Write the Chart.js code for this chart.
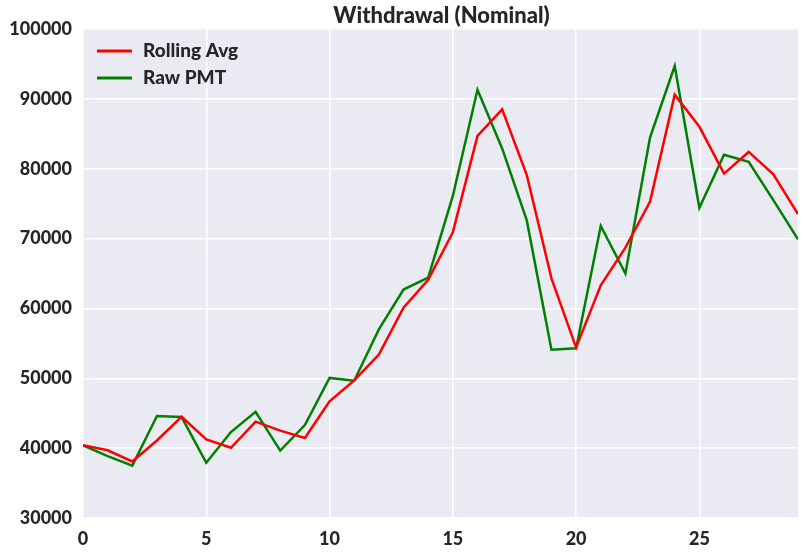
<!DOCTYPE html>
<html>
<head>
<meta charset="utf-8">
<script src="https://cdn.jsdelivr.net/npm/chart.js@4.4.1/dist/chart.umd.min.js"></script>
<style>
  html, body { margin: 0; padding: 0; background: #ffffff; }
  #wrap { width: 805px; height: 556px; }
</style>
</head>
<body>
<div id="wrap"><canvas id="grafica"></canvas></div>
<script>
const periods = [0, 1, 2, 3, 4, 5, 6, 7, 8, 9, 10, 11, 12, 13, 14, 15, 16, 17, 18, 19, 20, 21, 22, 23, 24, 25, 26, 27, 28, 29];
const rollingAvg = [40400, 39700, 38100, 41100, 44500, 41250, 40050, 43800, 42500, 41450, 46700, 49700, 53400, 60100, 64100, 70900, 84700, 88500, 79100, 64300, 54400, 63300, 68700, 75300, 90600, 86000, 79300, 82400, 79200, 73500];
const rawPmt = [40400, 38850, 37500, 44600, 44450, 37900, 42300, 45200, 39650, 43300, 50050, 49650, 57000, 62700, 64400, 76100, 91300, 82900, 72600, 54100, 54300, 71800, 65000, 84500, 94700, 74400, 82000, 81000, 75500, 69900];
const yTicks = [30000, 40000, 50000, 60000, 70000, 80000, 90000, 100000];
const xTicks = [0, 5, 10, 15, 20, 25];

const fontFam = "Lato, 'DejaVu Sans', sans-serif";
const textColor = "#262626";

const fondoPlot = {
    id: "fondoPlot",
    beforeDraw(chart) {
        const a = chart.chartArea;
        const ctx = chart.ctx;
        ctx.save();
        ctx.fillStyle = "#EAEAF2";
        ctx.fillRect(a.left, a.top, a.right - a.left, a.bottom - a.top);
        ctx.restore();
    }
};

const tituloYLeyenda = {
    id: "tituloYLeyenda",
    afterDraw(chart) {
        const a = chart.chartArea;
        const ctx = chart.ctx;
        ctx.save();
        ctx.fillStyle = textColor;
        ctx.font = "900 22px " + fontFam;
        ctx.textAlign = "center";
        ctx.textBaseline = "middle";
        ctx.fillText("Withdrawal (Nominal)", (a.left + a.right) / 2 + 1, 16);

        // leyenda dentro del area
        const items = chart.data.datasets;
        ctx.font = "900 19px " + fontFam;
        ctx.textAlign = "left";
        items.forEach((ds, i) => {
            const y = 51 + i * 27;
            ctx.strokeStyle = ds.borderColor;
            ctx.lineWidth = 3;
            ctx.beginPath();
            ctx.moveTo(97, y);
            ctx.lineTo(132, y);
            ctx.stroke();
            ctx.fillStyle = textColor;
            ctx.fillText(ds.label, 143, y);
        });
        ctx.restore();
    }
};

function iniciarGrafica() {
    const ctx = document.getElementById("grafica").getContext("2d");

    new Chart(ctx, {
        type: "line",
        data: {
            datasets: [{
                label: "Rolling Avg",
                data: periods.map((p, i) => ({ x: p, y: rollingAvg[i] })),
                borderColor: "#FF0000",
                borderWidth: 2.5,
                pointRadius: 0,
                tension: 0
            }, {
                label: "Raw PMT",
                data: periods.map((p, i) => ({ x: p, y: rawPmt[i] })),
                borderColor: "#008000",
                borderWidth: 2.5,
                pointRadius: 0,
                tension: 0
            }]
        },
        options: {
            responsive: true,
            maintainAspectRatio: false,
            animation: false,
            layout: { padding: { top: 29, right: 7, left: 0, bottom: 0 } },
            plugins: {
                legend: { display: false },
                title: { display: false },
                tooltip: { enabled: false }
            },
            scales: {
                x: {
                    type: "linear",
                    min: 0,
                    max: 29,
                    afterBuildTicks: s => { s.ticks = xTicks.map(v => ({ value: v })); },
                    afterFit: s => { s.height = 38; },
                    border: { display: false },
                    grid: { color: "#FFFFFF", lineWidth: 1.5, drawTicks: false },
                    ticks: {
                        padding: 10,
                        color: textColor,
                        font: { family: fontFam, size: 18, weight: "900" },
                        maxRotation: 0
                    }
                },
                y: {
                    min: 30000,
                    max: 100000,
                    afterBuildTicks: s => { s.ticks = yTicks.map(v => ({ value: v })); },
                    afterFit: s => { s.width = 83; },
                    border: { display: false },
                    grid: { color: "#FFFFFF", lineWidth: 1.5, drawTicks: false },
                    ticks: {
                        padding: 11,
                        color: textColor,
                        font: { family: fontFam, size: 18, weight: "900" },
                        callback: v => String(v)
                    }
                }
            }
        },
        plugins: [fondoPlot, tituloYLeyenda]
    });
}

document.addEventListener("DOMContentLoaded", iniciarGrafica);
</script>
</body>
</html>
